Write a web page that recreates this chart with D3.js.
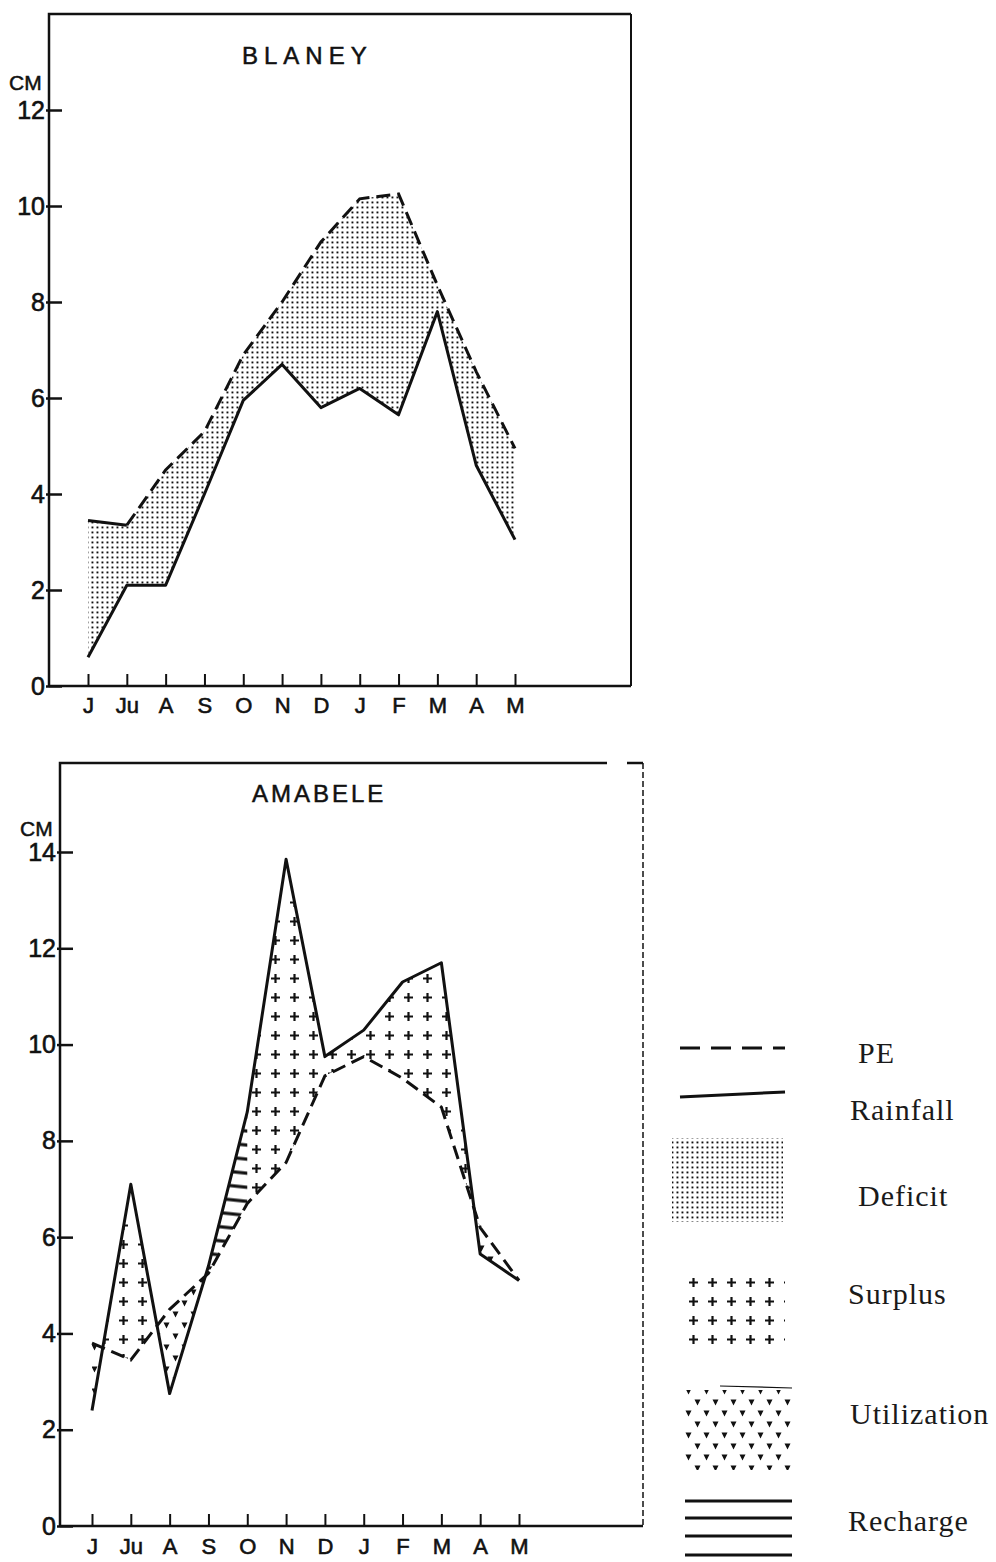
<!DOCTYPE html>
<html>
<head>
<meta charset="utf-8">
<script src="https://cdn.jsdelivr.net/npm/d3@7"></script>
<style>
  body { margin: 0; background: #fff; }
  svg { display: block; }
  .axis text { font-family: "Liberation Sans", Arial, sans-serif; fill: #111; stroke: #111; stroke-width: 0.6px; }
  .title, .cm { font-family: "Liberation Sans", Arial, sans-serif; fill: #111; stroke: #111; stroke-width: 0.5px; }
  .legend text { font-family: "Liberation Serif", "Times New Roman", serif; font-size: 30px; letter-spacing: 1px; fill: #1a1a1a; }
</style>
</head>
<body>
<svg id="chart" width="996" height="1562"></svg>
<script>
// months June -> May
const months = ["J", "Ju", "A", "S", "O", "N", "D", "J", "F", "M", "A", "M"];

// Blaney (cm)
const blaneyRain = [0.6, 2.1, 2.1, 4.0, 5.95, 6.7, 5.8, 6.2, 5.65, 7.8, 4.6, 3.05];
const blaneyPE   = [3.45, 3.35, 4.5, 5.3, 6.9, 8.0, 9.25, 10.15, 10.25, 8.35, 6.55, 4.95];
const blaneyTicks = [0, 2, 4, 6, 8, 10, 12];

// Amabele (cm)
const amabeleRain = [2.4, 7.1, 2.75, 5.4, 8.6, 13.85, 9.75, 10.3, 11.3, 11.7, 5.65, 5.1];
const amabelePE   = [3.8, 3.45, 4.5, 5.25, 6.7, 7.55, 9.35, 9.75, 9.3, 8.7, 6.2, 5.1];
const amabeleTicks = [0, 2, 4, 6, 8, 10, 12, 14];
const rechargeSpan = [2, 4]; // month indices where the surplus goes to soil recharge

const legendLabels = ["PE", "Rainfall", "Deficit", "Surplus", "Utilization", "Recharge"];

const svg = d3.select("#chart");
const defs = svg.append("defs");
const ink = "#111";

// fill patterns
defs.append("pattern")
  .attr("id", "dots").attr("patternUnits", "userSpaceOnUse")
  .attr("width", 5).attr("height", 5)
  .append("rect").attr("x", 1.5).attr("y", 1.5)
  .attr("width", 1.9).attr("height", 1.9).attr("fill", ink);

defs.append("pattern")
  .attr("id", "plus").attr("patternUnits", "userSpaceOnUse")
  .attr("width", 19).attr("height", 19)
  .append("path").attr("d", "M5,9.5h9M9.5,5v9")
  .attr("stroke", ink).attr("stroke-width", 2.2);

defs.append("pattern")
  .attr("id", "vees").attr("patternUnits", "userSpaceOnUse")
  .attr("width", 18).attr("height", 22)
  .append("path").attr("d", "M1.5,2.5h6l-3,6zM10.5,13.5h6l-3,6z")
  .attr("fill", ink);

defs.append("pattern")
  .attr("id", "hatch").attr("patternUnits", "userSpaceOnUse")
  .attr("width", 24).attr("height", 14)
  .attr("patternTransform", "rotate(6)")
  .append("line").attr("x1", 0).attr("x2", 24).attr("y1", 7).attr("y2", 7)
  .attr("stroke", ink).attr("stroke-width", 3.2);

const drawPanel = (p) => {
  const g = svg.append("g");
  const idx = d3.range(months.length);
  const x = d3.scaleLinear().domain([0, months.length - 1]).range([p.firstX, p.lastX]);
  const y = d3.scaleLinear().domain([0, p.yMax]).range([p.bottom, p.yMaxPx]);

  // frame
  g.append("path")
    .attr("d", `M${p.left},${p.bottom}V${p.top}H${p.topEnd}`)
    .attr("fill", "none").attr("stroke", ink).attr("stroke-width", 2.5);
  g.append("line")
    .attr("x1", p.left).attr("x2", p.right).attr("y1", p.bottom).attr("y2", p.bottom)
    .attr("stroke", ink).attr("stroke-width", 2.5);
  if (p.topEnd < p.right) {
    g.append("line")
      .attr("x1", p.topEnd + 20).attr("x2", p.right).attr("y1", p.top).attr("y2", p.top)
      .attr("stroke", ink).attr("stroke-width", 2.5);
  }
  g.append("line")
    .attr("x1", p.right).attr("x2", p.right).attr("y1", p.top).attr("y2", p.bottom)
    .attr("stroke", ink).attr("stroke-width", p.rightDash ? 1.5 : 2)
    .attr("stroke-dasharray", p.rightDash ? "6 3" : null);

  // fills
  if (p.mode === "deficit") {
    g.append("path")
      .attr("d", d3.area().x((i) => x(i)).y0((i) => y(p.rain[i])).y1((i) => y(p.pe[i]))(idx))
      .attr("fill", "url(#dots)");
  } else {
    const clipA = defs.append("clipPath").attr("id", p.id + "-abovePE");
    clipA.append("path").attr("d", d3.area().x((i) => x(i)).y0((i) => y(p.pe[i])).y1(p.top)(idx));
    const clipB = defs.append("clipPath").attr("id", p.id + "-belowPE");
    clipB.append("path").attr("d", d3.area().x((i) => x(i)).y0((i) => y(p.pe[i])).y1(p.bottom)(idx));

    const recharge = defs.append("clipPath").attr("id", p.id + "-recharge");
    recharge.append("rect")
      .attr("x", x(p.recharge[0])).attr("width", x(p.recharge[1]) - x(p.recharge[0]))
      .attr("y", p.top).attr("height", p.bottom - p.top);
    const surplus = defs.append("clipPath").attr("id", p.id + "-surplus");
    surplus.append("rect")
      .attr("x", p.left).attr("width", x(p.recharge[0]) - p.left)
      .attr("y", p.top).attr("height", p.bottom - p.top);
    surplus.append("rect")
      .attr("x", x(p.recharge[1])).attr("width", p.right - x(p.recharge[1]))
      .attr("y", p.top).attr("height", p.bottom - p.top);

    const belowRain = d3.area().x((i) => x(i)).y0(p.bottom).y1((i) => y(p.rain[i]))(idx);
    const aboveRain = d3.area().x((i) => x(i)).y0((i) => y(p.rain[i])).y1(p.top)(idx);

    const wet = g.append("g").attr("clip-path", `url(#${p.id}-abovePE)`);
    wet.append("path").attr("d", belowRain).attr("fill", "url(#plus)")
      .attr("clip-path", `url(#${p.id}-surplus)`);
    wet.append("path").attr("d", belowRain).attr("fill", "url(#hatch)")
      .attr("clip-path", `url(#${p.id}-recharge)`);

    g.append("g").attr("clip-path", `url(#${p.id}-belowPE)`)
      .append("path").attr("d", aboveRain).attr("fill", "url(#vees)");
  }

  // lines
  const line = (vals) => d3.line().x((i) => x(i)).y((i) => y(vals[i]));
  g.append("path")
    .attr("d", line(p.rain)(idx))
    .attr("fill", "none").attr("stroke", ink).attr("stroke-width", 3)
    .attr("stroke-linejoin", "round");
  const solidTo = p.peSolidTo || 0;
  if (solidTo > 0) {
    g.append("path")
      .attr("d", line(p.pe)(idx.slice(0, solidTo + 1)))
      .attr("fill", "none").attr("stroke", ink).attr("stroke-width", 3);
  }
  g.append("path")
    .attr("d", line(p.pe)(idx.slice(solidTo)))
    .attr("fill", "none").attr("stroke", ink).attr("stroke-width", 3)
    .attr("stroke-dasharray", "14 7");

  // axes
  g.append("g")
    .attr("class", "axis")
    .attr("transform", `translate(${p.left},0)`)
    .call(d3.axisLeft(y).tickValues(p.ticks).tickSizeInner(-13).tickSizeOuter(0).tickPadding(4))
    .call((a) => a.select(".domain").remove())
    .call((a) => a.selectAll(".tick line").attr("x1", -3).attr("stroke", ink).attr("stroke-width", 2.5))
    .call((a) => a.selectAll(".tick text").attr("font-size", 25));

  g.append("g")
    .attr("class", "axis")
    .attr("transform", `translate(0,${p.bottom})`)
    .call(d3.axisBottom(x).tickValues(idx).tickFormat((i) => months[i])
      .tickSizeInner(-12).tickSizeOuter(0).tickPadding(p.xPad))
    .call((a) => a.select(".domain").remove())
    .call((a) => a.selectAll(".tick line").attr("stroke", ink).attr("stroke-width", 2))
    .call((a) => a.selectAll(".tick text").attr("font-size", 22));

  g.append("text").attr("class", "title")
    .attr("x", p.titleX).attr("y", p.titleY)
    .attr("font-size", 24).attr("letter-spacing", p.titleSpacing)
    .text(p.title);

  g.append("text").attr("class", "cm")
    .attr("x", p.cmX).attr("y", p.cmY).attr("font-size", 21)
    .text("CM");
};

drawPanel({
  id: "blaney", mode: "deficit", title: "BLANEY",
  rain: blaneyRain, pe: blaneyPE, ticks: blaneyTicks, peSolidTo: 1,
  firstX: 88, lastX: 515, yMax: 12, yMaxPx: 110,
  left: 49, right: 631, top: 14, topEnd: 631, bottom: 686,
  xPad: 11, titleX: 242, titleY: 64, titleSpacing: 6, cmX: 9, cmY: 90
});

drawPanel({
  id: "amabele", mode: "balance", title: "AMABELE",
  rain: amabeleRain, pe: amabelePE, ticks: amabeleTicks, recharge: rechargeSpan,
  firstX: 92, lastX: 519, yMax: 14, yMaxPx: 852,
  left: 60, right: 643, top: 763, topEnd: 607, bottom: 1526, rightDash: true,
  xPad: 12, titleX: 252, titleY: 802, titleSpacing: 3, cmX: 20, cmY: 836
});

// legend
const legend = svg.append("g").attr("class", "legend");
const legendText = [[858, 1063], [850, 1120], [858, 1206], [848, 1304], [850, 1424], [848, 1531]];
legend.selectAll("text").data(legendLabels).join("text")
  .attr("x", (d, i) => legendText[i][0]).attr("y", (d, i) => legendText[i][1])
  .text((d) => d);

legend.append("line").attr("x1", 680).attr("x2", 785).attr("y1", 1048).attr("y2", 1048)
  .attr("stroke", ink).attr("stroke-width", 3).attr("stroke-dasharray", "20 11");
legend.append("line").attr("x1", 680).attr("x2", 785).attr("y1", 1097).attr("y2", 1092)
  .attr("stroke", ink).attr("stroke-width", 3);
legend.append("rect").attr("x", 672).attr("y", 1138).attr("width", 111).attr("height", 84)
  .attr("fill", "url(#dots)");
legend.append("rect").attr("x", 680).attr("y", 1273).attr("width", 105).attr("height", 72)
  .attr("fill", "url(#plus)");
legend.append("line").attr("x1", 720).attr("x2", 792).attr("y1", 1386).attr("y2", 1388)
  .attr("stroke", ink).attr("stroke-width", 1.2);
legend.append("rect").attr("x", 683).attr("y", 1390).attr("width", 109).attr("height", 80)
  .attr("fill", "url(#vees)");
legend.selectAll(".rech").data([1501, 1518, 1536, 1555]).join("line")
  .attr("class", "rech")
  .attr("x1", 685).attr("x2", 792).attr("y1", (d) => d).attr("y2", (d) => d)
  .attr("stroke", ink).attr("stroke-width", 3);
</script>
</body>
</html>
